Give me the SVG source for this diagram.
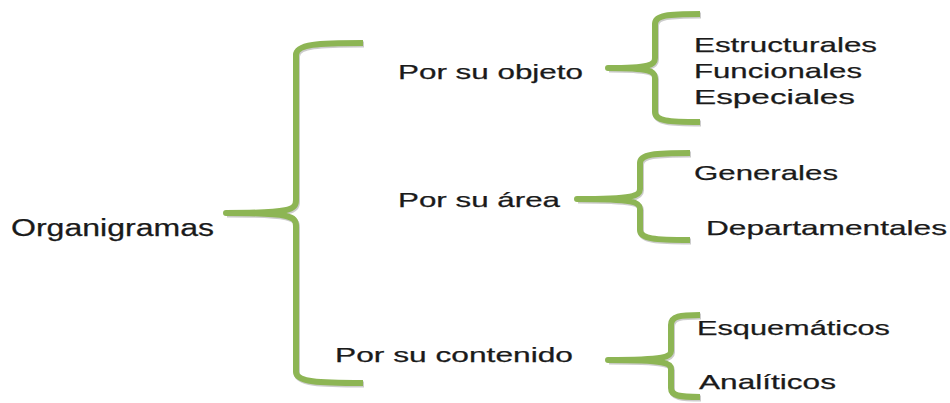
<svg xmlns="http://www.w3.org/2000/svg" width="950" height="403" viewBox="0 0 950 403">
<style>
  .t { font-family: "Liberation Sans", Arial, sans-serif; font-size: 21px; fill: #1a1a1a; stroke: #1a1a1a; stroke-width: 0.25; }
  .big { font-size: 23px; }
  .brace { fill: none; stroke: #8db554; stroke-width: 6; stroke-linecap: butt; stroke-linejoin: round; }
  .shadow { fill: none; stroke: #9a9a9a; stroke-opacity: 0.5; stroke-width: 6; }
</style>
<rect width="950" height="403" fill="#ffffff"/>
<g id="connectors">
  <g transform="translate(1,1.5)">
    <path class="shadow" d="M363,43 C318,43 296,44 296,55 L296,200 C296,210 290,213 226,213 C290,213 296,216 296,226 L296,372 C296,382 318,383 363,383"/>
    <path class="shadow" d="M700,14 C668,14 655,15 655,24 L655,58 C655,65 650,68 608,68 C650,68 655,71 655,78 L655,112 C655,121 668,122 700,122"/>
    <path class="shadow" d="M690,153 C655,153 640,154 640,163 L640,189 C640,196 634,199 577,199 C634,199 640,202 640,209 L640,230 C640,239 655,240 690,240"/>
    <path class="shadow" d="M700,315 C680,315 671,316 671,325 L671,351 C671,357 666,360 608,360 C666,360 671,363 671,369 L671,388 C671,396 680,397 700,397"/>
  </g>
  <path class="brace" d="M363,43 C318,43 296,44 296,55 L296,200 C296,210 290,213 226,213 C290,213 296,216 296,226 L296,372 C296,382 318,383 363,383"/>
  <path class="brace" d="M700,14 C668,14 655,15 655,24 L655,58 C655,65 650,68 608,68 C650,68 655,71 655,78 L655,112 C655,121 668,122 700,122"/>
  <path class="brace" d="M690,153 C655,153 640,154 640,163 L640,189 C640,196 634,199 577,199 C634,199 640,202 640,209 L640,230 C640,239 655,240 690,240"/>
  <path class="brace" d="M700,315 C680,315 671,316 671,325 L671,351 C671,357 666,360 608,360 C666,360 671,363 671,369 L671,388 C671,396 680,397 700,397"/>
</g>
<g id="organigramas"><text class="t big" x="11" y="236" textLength="203" lengthAdjust="spacingAndGlyphs">Organigramas</text></g>
<g id="por-su-objeto"><text class="t" x="398" y="79" textLength="185" lengthAdjust="spacingAndGlyphs">Por su objeto</text></g>
<g id="por-su-area"><text class="t" x="398" y="207" textLength="162" lengthAdjust="spacingAndGlyphs">Por su área</text></g>
<g id="por-su-contenido"><text class="t" x="335" y="362" textLength="238" lengthAdjust="spacingAndGlyphs">Por su contenido</text></g>
<g id="estructurales"><text class="t" x="694" y="52" textLength="183" lengthAdjust="spacingAndGlyphs">Estructurales</text></g>
<g id="funcionales"><text class="t" x="694" y="78" textLength="168" lengthAdjust="spacingAndGlyphs">Funcionales</text></g>
<g id="especiales"><text class="t" x="694" y="104" textLength="161" lengthAdjust="spacingAndGlyphs">Especiales</text></g>
<g id="generales"><text class="t" x="694" y="180" textLength="144" lengthAdjust="spacingAndGlyphs">Generales</text></g>
<g id="departamentales"><text class="t" x="706" y="235" textLength="241" lengthAdjust="spacingAndGlyphs">Departamentales</text></g>
<g id="esquematicos"><text class="t" x="697" y="335" textLength="193" lengthAdjust="spacingAndGlyphs">Esquemáticos</text></g>
<g id="analiticos"><text class="t" x="699" y="389" textLength="137" lengthAdjust="spacingAndGlyphs">Analíticos</text></g>
</svg>
